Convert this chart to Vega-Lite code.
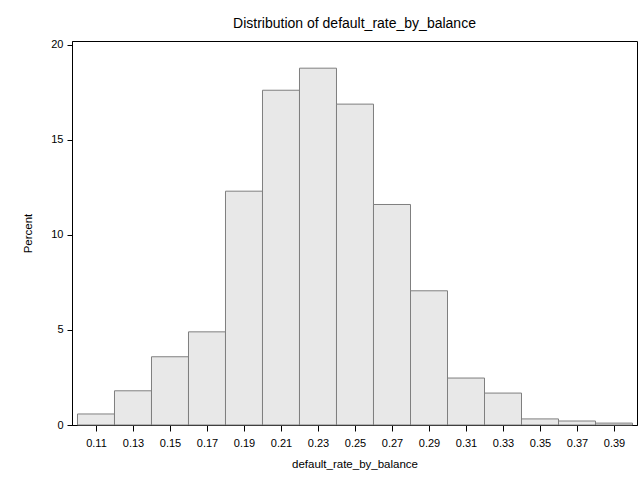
{
  "$schema": "https://vega.github.io/schema/vega-lite/v6.json",
  "width": 565,
  "height": 384,
  "autosize": {"type": "none"},
  "padding": {"left": 72, "top": 41, "right": 7, "bottom": 60},
  "background": "white",
  "title": {
    "text": "Distribution of default_rate_by_balance",
    "font": "Liberation Sans",
    "fontSize": 14,
    "fontWeight": "normal",
    "color": "#000000",
    "anchor": "middle",
    "offset": 8
  },
  "config": {
    "view": {"stroke": "#000000", "strokeWidth": 1},
    "axis": {
      "labelFont": "Liberation Sans",
      "titleFont": "Liberation Sans",
      "labelFontSize": 11,
      "titleFontSize": 11.5,
      "titleFontWeight": "normal",
      "labelColor": "#000000",
      "titleColor": "#000000",
      "domainColor": "#000000",
      "tickColor": "#000000",
      "grid": false
    }
  },
  "data": {
    "values": [
      {"bin_start": 0.10, "bin_end": 0.12, "percent": 0.58},
      {"bin_start": 0.12, "bin_end": 0.14, "percent": 1.80},
      {"bin_start": 0.14, "bin_end": 0.16, "percent": 3.59},
      {"bin_start": 0.16, "bin_end": 0.18, "percent": 4.90},
      {"bin_start": 0.18, "bin_end": 0.20, "percent": 12.30},
      {"bin_start": 0.20, "bin_end": 0.22, "percent": 17.61},
      {"bin_start": 0.22, "bin_end": 0.24, "percent": 18.77},
      {"bin_start": 0.24, "bin_end": 0.26, "percent": 16.88},
      {"bin_start": 0.26, "bin_end": 0.28, "percent": 11.60},
      {"bin_start": 0.28, "bin_end": 0.30, "percent": 7.06},
      {"bin_start": 0.30, "bin_end": 0.32, "percent": 2.47},
      {"bin_start": 0.32, "bin_end": 0.34, "percent": 1.68},
      {"bin_start": 0.34, "bin_end": 0.36, "percent": 0.32},
      {"bin_start": 0.36, "bin_end": 0.38, "percent": 0.21},
      {"bin_start": 0.38, "bin_end": 0.40, "percent": 0.10}
    ]
  },
  "mark": {"type": "rect", "fill": "#e8e8e8", "stroke": "#7f7f7f", "strokeWidth": 1},
  "encoding": {
    "x": {
      "field": "bin_start",
      "type": "quantitative",
      "scale": {"domain": [0.09703, 0.40243], "nice": false, "zero": false},
      "axis": {
        "title": "default_rate_by_balance",
        "values": [0.11, 0.13, 0.15, 0.17, 0.19, 0.21, 0.23, 0.25, 0.27, 0.29, 0.31, 0.33, 0.35, 0.37, 0.39],
        "format": ".2f",
        "tickSize": 6,
        "labelPadding": 6,
        "titlePadding": 10,
        "labelFlush": false,
        "labelOverlap": false
      }
    },
    "x2": {"field": "bin_end"},
    "y": {
      "field": "percent",
      "type": "quantitative",
      "scale": {"domain": [0, 20.2], "nice": false},
      "axis": {
        "title": "Percent",
        "values": [0, 5, 10, 15, 20],
        "tickSize": 5,
        "labelPadding": 4,
        "titlePadding": 17,
        "labelFlush": false
      }
    },
    "y2": {"datum": 0}
  }
}
